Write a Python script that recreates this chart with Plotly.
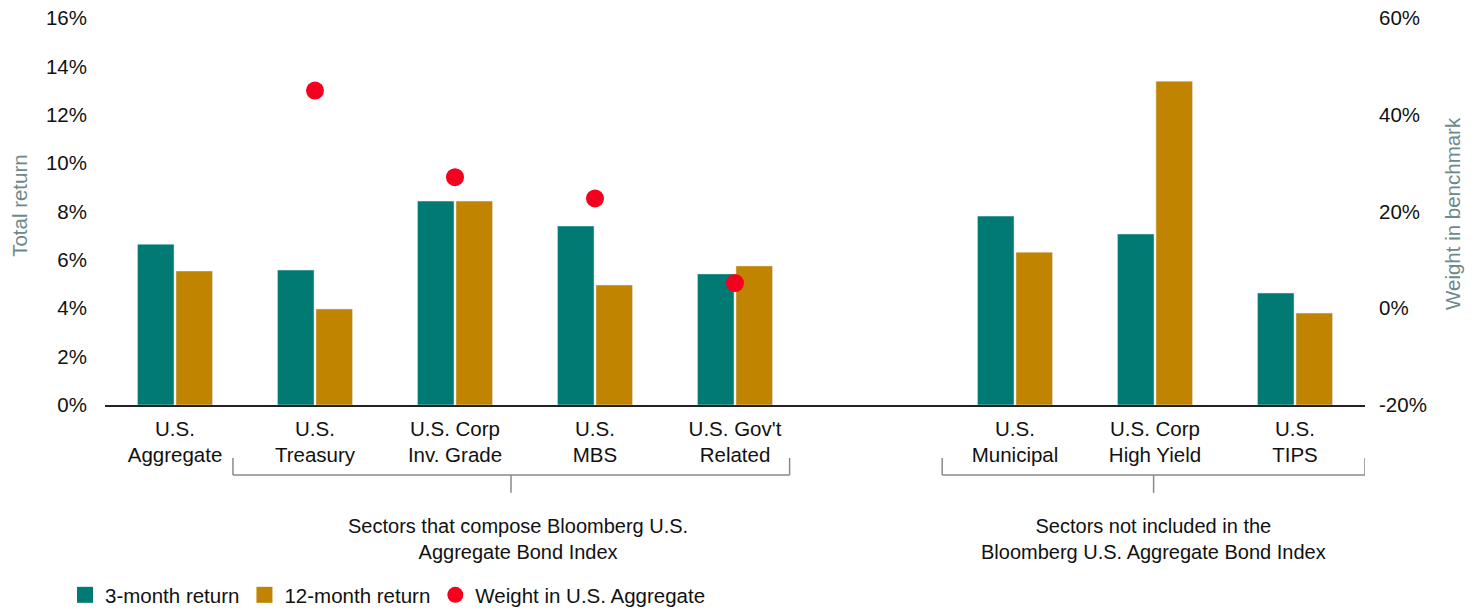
import plotly.graph_objects as go

categories = ["U.S.<br>Aggregate", "U.S.<br>Treasury", "U.S. Corp<br>Inv. Grade", "U.S.<br>MBS",
              "U.S. Gov't<br>Related", " ", "U.S.<br>Municipal", "U.S. Corp<br>High Yield", "U.S.<br>TIPS"]
ret_3m = [6.65, 5.58, 8.43, 7.40, 5.42, None, 7.81, 7.07, 4.63]
ret_12m = [5.54, 3.97, 8.43, 4.96, 5.75, None, 6.32, 13.39, 3.80]
weight = [None, 45.0, 27.1, 22.7, 5.2, None, None, None, None]

left_ticks = [0, 2, 4, 6, 8, 10, 12, 14, 16]
left_text = ["0%", "2%", "4%", "6%", "8%", "10%", "12%", "14%", "16%"]
right_ticks = [-20, 0, 20, 40, 60]
right_text = ["-20%", "0%", "20%", "40%", "60%"]

TEAL = "#007a73"
GOLD = "#c08400"
RED = "#f5001e"
TITLE_C = "#6d8a8a"
FONT = "Liberation Sans, Arial, sans-serif"

fig = go.Figure()
fig.add_trace(go.Bar(x=categories, y=ret_3m, name="3-month return", marker_color=TEAL, showlegend=False))
fig.add_trace(go.Bar(x=categories, y=ret_12m, name="12-month return", marker_color=GOLD, showlegend=False))
# legend-only entries with larger square swatches
fig.add_trace(go.Scatter(x=[None], y=[None], mode="markers", name="3-month return",
                         marker=dict(symbol="square", color=TEAL, size=16)))
fig.add_trace(go.Scatter(x=[None], y=[None], mode="markers", name="12-month return",
                         marker=dict(symbol="square", color=GOLD, size=16)))
fig.add_trace(go.Scatter(x=categories, y=weight, name="Weight in U.S. Aggregate", mode="markers",
                         marker=dict(color=RED, size=18), yaxis="y2"))

fig.update_layout(
    width=1477, height=610,
    margin=dict(l=105, r=112, t=18, b=205, autoexpand=False),
    plot_bgcolor="white", paper_bgcolor="white",
    font=dict(family=FONT, size=20, color="#111"),
    barmode="group", bargap=0.45, bargroupgap=0.05,
    xaxis=dict(type="category", categoryarray=categories, range=[-0.5, 8.5], showline=True,
               linecolor="#222", linewidth=2, ticklabelstandoff=4,
               showgrid=False, ticks="", tickfont=dict(size=20.5), automargin=False),
    yaxis=dict(range=[0, 16], tickvals=left_ticks, ticktext=left_text, showgrid=False, zeroline=False,
               tickfont=dict(size=20.5), automargin=False, ticklabelstandoff=17,
               ticklabeloverflow="allow"),
    yaxis2=dict(range=[-20, 60], tickvals=right_ticks, ticktext=right_text, overlaying="y", side="right",
                showgrid=False, zeroline=False, tickfont=dict(size=20.5), automargin=False,
                ticklabelstandoff=13, ticklabeloverflow="allow"),
    legend=dict(orientation="h", xref="container", yref="container", x=0.044, xanchor="left",
                y=0.0246, yanchor="middle",
                font=dict(size=20.5), itemsizing="trace", traceorder="normal"),
)

fig.add_annotation(text="Total return", textangle=-90, x=-0.0675, xref="paper", y=0.517, yref="paper",
                   showarrow=False, font=dict(size=20.5, color=TITLE_C), xanchor="center", yanchor="middle")
fig.add_annotation(text="Weight in benchmark", textangle=-90, x=1.069, xref="paper", y=0.496, yref="paper",
                   showarrow=False, font=dict(size=20.5, color=TITLE_C), xanchor="center", yanchor="middle")

LINE = dict(color="#8a8a8a", width=1.5)
def bracket(x0, x1, xc):
    yb, yt, yd = -0.181, -0.137, -0.227
    fig.add_shape(type="line", xref="x", yref="paper", x0=x0, x1=x1, y0=yb, y1=yb, line=LINE)
    fig.add_shape(type="line", xref="x", yref="paper", x0=x0, x1=x0, y0=yb, y1=yt, line=LINE)
    fig.add_shape(type="line", xref="x", yref="paper", x0=x1, x1=x1, y0=yb, y1=yt, line=LINE)
    fig.add_shape(type="line", xref="x", yref="paper", x0=xc, x1=xc, y0=yb, y1=yd, line=LINE)

bracket(0.414, 4.39, 2.40)
bracket(5.48, 8.5, 6.99)

fig.add_annotation(x=2.45, xref="x", y=-0.3475, yref="paper", showarrow=False,
                   text="Sectors that compose Bloomberg U.S.<br>Aggregate Bond Index",
                   font=dict(size=20), align="center", yanchor="middle")
fig.add_annotation(x=6.99, xref="x", y=-0.3475, yref="paper", showarrow=False,
                   text="Sectors not included in the<br>Bloomberg U.S. Aggregate Bond Index",
                   font=dict(size=20), align="center", yanchor="middle")

fig.write_html("out.html", config={"displayModeBar": False},
               post_script="document.body.style.margin='0';")
